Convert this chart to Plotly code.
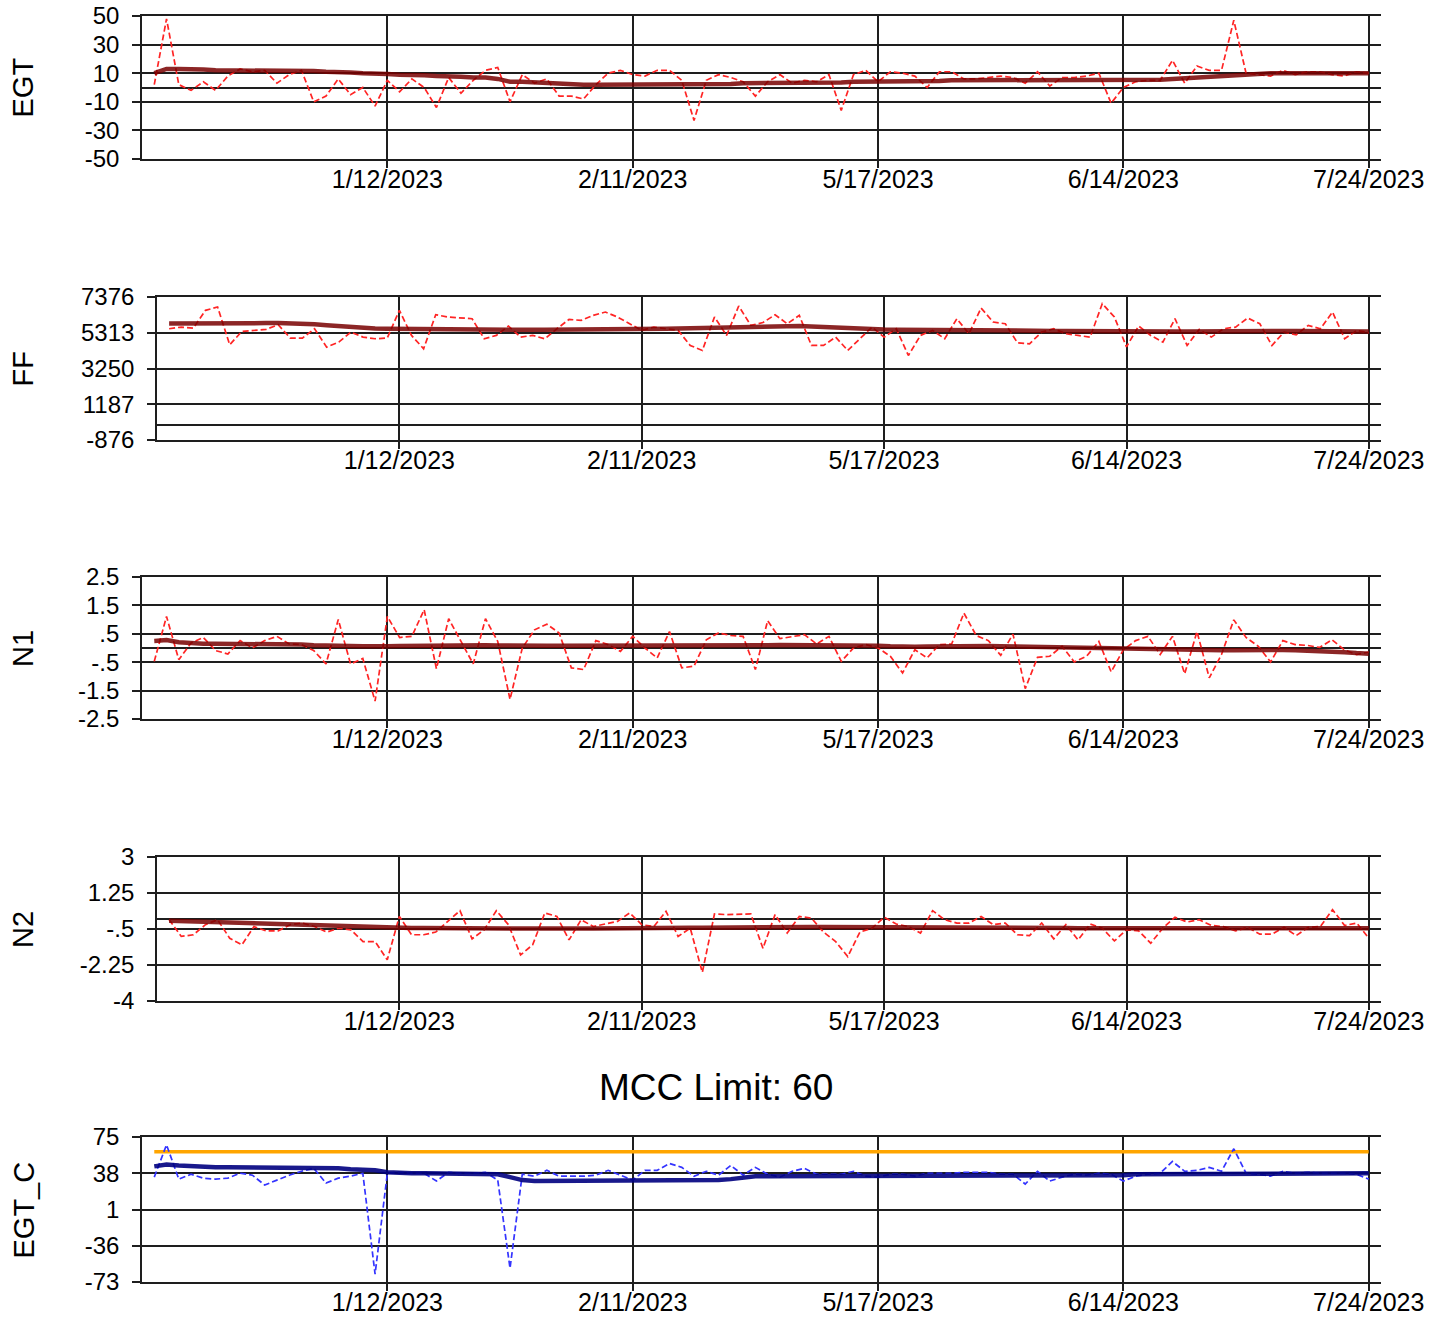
import plotly.graph_objects as go

# ---------------- data ----------------
N_POINTS = 100
X = list(range(N_POINTS))
TICK_IDX = [19, 39, 59, 79, 99]
TICK_LABELS = ["1/12/2023", "2/11/2023", "5/17/2023", "6/14/2023", "7/24/2023"]

EGT_RAW = [2, 48, 2, -2, 4, -2, 8, 13, 11, 12,
           3, 9, 12, -10, -6, 6, -5, 0, -13, 5,
           -3, 6, 0, -14, 7, -4, 5, 12, 14, -10,
           9, 3, 6, -6, -6, -8, 2, 10, 12, 9,
           8, 12, 12, 5, -23, 5, 9, 7, 4, -6,
           4, 9, 3, 5, 4, 9, -16, 9, 12, 4,
           11, 10, 8, 0, 11, 11, 6, 6, 7, 8,
           7, 3, 11, 1, 7, 7, 8, 10, -11, 0,
           4, 5, 5, 19, 3, 15, 12, 12, 47, 10,
           9, 8, 12, 9, 11, 11, 9, 8, 11, 10]
EGT_TREND = [10, 13, 13, 13, 12.5, 12, 12, 12, 12, 12,
             12, 12, 11.5, 11.5, 11, 11, 10.5, 10, 10, 9.5,
             9, 9, 8.5, 8, 8, 7.5, 7, 7, 6, 4,
             4, 3.5, 3.5, 3, 2.5, 2, 2, 2, 2, 2,
             2, 2, 2, 2, 2, 2.5, 2.5, 2.5, 3, 3,
             3, 3, 3, 3.5, 3.5, 3.5, 3.5, 4, 4, 4,
             4, 4, 4.5, 4.5, 4.5, 5, 5, 5, 5, 5,
             5, 5, 5.5, 5.5, 5.5, 5.5, 5.5, 5.5, 5.5, 5,
             5, 5, 5.5, 6, 6.5, 7, 7.5, 8, 9, 9.5,
             10, 10, 10, 10, 10, 10, 10, 10, 10, 10]
EGT_TICKS = [50, 30, 10, -10, -30, -50]
EGT_TICK_TEXT = ["50", "30", "10", "-10", "-30", "-50"]

FF_RAW = [5544, 5640, 5583, 6605, 6800, 4619, 5390, 5448, 5506, 5776,
          5005, 5005, 5544, 4484, 4773, 5351, 5062, 4966, 5005, 6605,
          5159, 4388, 6354, 6219, 6161, 6123, 4966, 5159, 5699, 5062,
          5159, 4966, 5544, 6084, 6026, 6315, 6508, 6219, 5834, 5448,
          5640, 5544, 5448, 4580, 4291, 6219, 5159, 6855, 5737, 5900,
          6354, 5834, 6315, 4580, 4580, 5062, 4291, 4966, 5640, 5062,
          5544, 4002, 5159, 5448, 4966, 6123, 5255, 6740, 5930, 5834,
          4735, 4677, 5351, 5544, 5255, 5159, 5062, 6990, 6219, 4500,
          5700, 5159, 4773, 6123, 4580, 5506, 5062, 5544, 5640, 6161,
          5834, 4580, 5351, 5197, 5737, 5544, 6508, 4966, 5448, 5313]
FF_TREND = [5850, 5860, 5870, 5880, 5880, 5880, 5870, 5870, 5870, 5870,
            5860, 5850, 5800, 5740, 5680, 5620, 5580, 5560, 5540, 5530,
            5520, 5510, 5500, 5500, 5500, 5490, 5490, 5480, 5480, 5480,
            5480, 5480, 5480, 5490, 5500, 5500, 5500, 5500, 5500, 5510,
            5520, 5540, 5560, 5580, 5600, 5620, 5640, 5660, 5680, 5690,
            5700, 5700, 5700, 5680, 5640, 5600, 5560, 5540, 5520, 5500,
            5490, 5480, 5470, 5460, 5460, 5450, 5450, 5450, 5440, 5440,
            5430, 5420, 5420, 5420, 5420, 5410, 5400, 5400, 5400, 5400,
            5380, 5370, 5370, 5380, 5390, 5400, 5410, 5410, 5420, 5420,
            5420, 5420, 5420, 5410, 5410, 5400, 5400, 5390, 5390, 5380]
FF_TICKS = [7376, 5313, 3250, 1187, -876]
FF_TICK_TEXT = ["7376", "5313", "3250", "1187", "-876"]

N1_RAW = [-0.47, 1.11, -0.41, 0.18, 0.37, -0.09, -0.21, 0.26, 0.0, 0.26,
          0.41, 0.14, 0.12, -0.09, -0.56, 1.0, -0.56, -0.37, -1.87, 1.11,
          0.37, 0.41, 1.35, -0.73, 1.03, 0.23, -0.56, 1.03, 0.23, -1.81,
          0.0, 0.64, 0.84, 0.53, -0.7, -0.76, 0.26, 0.12, -0.12, 0.41,
          0.0, -0.35, 0.58, -0.7, -0.64, 0.29, 0.53, 0.44, 0.41, -0.76,
          0.96, 0.33, 0.41, 0.47, 0.14, 0.41, -0.47, 0.0, 0.12, 0.0,
          -0.29, -0.88, -0.06, -0.35, 0.12, 0.14, 1.23, 0.44, 0.26, -0.26,
          0.49, -1.43, -0.33, -0.29, 0.06, -0.49, -0.29, 0.23, -0.84, -0.06,
          0.26, 0.41, -0.23, 0.41, -0.91, 0.58, -1.05, -0.23, 0.99, 0.37,
          0.06, -0.49, 0.26, 0.12, 0.09, 0.02, 0.29, -0.06, -0.23, -0.14]
N1_TREND = [0.25, 0.28, 0.2, 0.17, 0.15, 0.15, 0.15, 0.14, 0.14, 0.14,
            0.13, 0.12, 0.12, 0.1, 0.1, 0.08, 0.07, 0.06, 0.05, 0.06,
            0.07, 0.08, 0.09, 0.1, 0.1, 0.1, 0.1, 0.1, 0.09, 0.08,
            0.08, 0.08, 0.08, 0.08, 0.08, 0.08, 0.08, 0.08, 0.08, 0.08,
            0.08, 0.08, 0.08, 0.09, 0.09, 0.1, 0.1, 0.1, 0.08, 0.07,
            0.1, 0.11, 0.11, 0.1, 0.1, 0.1, 0.09, 0.09, 0.08, 0.08,
            0.06, 0.04, 0.04, 0.05, 0.06, 0.06, 0.06, 0.07, 0.07, 0.06,
            0.05, 0.04, 0.03, 0.03, 0.02, 0.02, 0.01, 0.0, -0.01, -0.02,
            -0.03, -0.04, -0.04, -0.05, -0.06, -0.07, -0.08, -0.08, -0.08, -0.07,
            -0.07, -0.07, -0.07, -0.08, -0.09, -0.1, -0.12, -0.15, -0.18, -0.2]
N1_TICKS = [2.5, 1.5, 0.5, -0.5, -1.5, -2.5]
N1_TICK_TEXT = ["2.5", "1.5", ".5", "-.5", "-1.5", "-2.5"]

N2_RAW = [-0.05, -0.86, -0.78, -0.29, -0.05, -0.95, -1.27, -0.38, -0.59, -0.59,
          -0.29, -0.21, -0.38, -0.65, -0.46, -0.54, -1.11, -1.11, -2.0, 0.11,
          -0.78, -0.78, -0.65, -0.13, 0.39, -0.98, -0.54, 0.39, -0.29, -1.76,
          -1.27, 0.28, 0.11, -1.03, -0.05, -0.38, -0.26, -0.13, 0.28, -0.29,
          -0.38, 0.36, -0.86, -0.46, -2.61, 0.23, 0.2, 0.2, 0.23, -1.44,
          0.2, -0.7, 0.11, 0.03, -0.65, -1.11, -1.84, -0.65, -0.46, 0.07,
          -0.26, -0.38, -0.7, 0.39, -0.05, -0.21, -0.21, 0.11, -0.29, -0.21,
          -0.78, -0.82, -0.21, -0.98, -0.29, -1.03, -0.26, -0.46, -1.08, -0.54,
          -0.59, -1.19, -0.46, 0.07, -0.16, -0.05, -0.33, -0.38, -0.59, -0.42,
          -0.75, -0.75, -0.42, -0.82, -0.42, -0.38, 0.44, -0.33, -0.21, -0.95]
N2_TREND = [-0.1, -0.12, -0.13, -0.14, -0.15, -0.16, -0.18, -0.2, -0.22, -0.25,
            -0.27, -0.29, -0.31, -0.33, -0.35, -0.37, -0.39, -0.41, -0.43, -0.44,
            -0.45, -0.45, -0.46, -0.46, -0.46, -0.47, -0.47, -0.47, -0.47, -0.47,
            -0.48, -0.48, -0.48, -0.48, -0.47, -0.47, -0.46, -0.46, -0.45, -0.45,
            -0.45, -0.45, -0.44, -0.44, -0.44, -0.43, -0.43, -0.42, -0.42, -0.42,
            -0.41, -0.41, -0.41, -0.4, -0.4, -0.4, -0.41, -0.42, -0.42, -0.42,
            -0.42, -0.42, -0.42, -0.41, -0.41, -0.41, -0.41, -0.42, -0.42, -0.43,
            -0.43, -0.44, -0.44, -0.45, -0.45, -0.46, -0.46, -0.47, -0.47, -0.47,
            -0.48, -0.48, -0.48, -0.47, -0.47, -0.46, -0.46, -0.45, -0.45, -0.45,
            -0.45, -0.45, -0.45, -0.45, -0.45, -0.44, -0.44, -0.44, -0.45, -0.46]
N2_TICKS = [3, 1.25, -0.5, -2.25, -4]
N2_TICK_TEXT = ["3", "1.25", "-.5", "-2.25", "-4"]

EGTC_RAW = [34, 67, 32, 37, 33, 32, 33, 38, 36, 26,
            31, 36, 40, 43, 28, 33, 35, 38, -65, 38,
            39, 38, 38, 30, 39, 38, 38, 39, 31, -59,
            37, 35, 41, 35, 35, 35, 36, 41, 36, 31,
            41, 41, 48, 44, 35, 40, 36, 46, 36, 44,
            37, 34, 40, 43, 37, 37, 37, 40, 35, 34,
            37, 37, 35, 38, 38, 38, 39, 39, 39, 37,
            37, 27, 40, 30, 34, 37, 36, 38, 37, 30,
            35, 37, 38, 50, 40, 41, 44, 40, 63, 38,
            37, 35, 40, 38, 39, 38, 38, 38, 37, 32]
EGTC_TREND = [45, 47, 46, 45, 44, 44, 44, 44, 44, 44,
              43, 43, 43, 43, 43, 43, 42, 42, 41, 39,
              38, 38, 38, 38, 38, 38, 38, 38, 37, 34,
              31, 30, 30, 30, 30, 30, 30, 30, 30, 30,
              30, 30, 30, 30, 30, 30, 31, 32, 34, 35,
              35, 35, 35, 35, 35, 35, 35, 35, 35, 35,
              36, 36, 36, 36, 36, 36, 36, 36, 36, 36,
              36, 36, 36, 36, 36, 36, 36, 36, 36, 36,
              37, 37, 37, 37, 37, 37, 37, 37, 37, 38,
              38, 38, 38, 38, 38, 38, 38, 38, 38, 38]
EGTC_TICKS = [75, 38, 1, -36, -73]
EGTC_TICK_TEXT = ["75", "38", "1", "-36", "-73"]
MCC_LIMIT = 60

# ---------------- layout geometry (pixels of a 1441x1317 page) ----------------
W, H = 1441, 1317
FONT = "Liberation Sans, Arial, sans-serif"
PLOT_RIGHT = 1381
GRID = "#1e1e1e"

panels = [
    # name, raw, trend, ticks, ticktext, left px, top px, bottom px, raw colour, trend colour, zero line
    ("EGT", EGT_RAW, EGT_TREND, EGT_TICKS, EGT_TICK_TEXT, 142, 16, 159, "#ff2424", "rgba(120,0,0,0.85)", True),
    ("FF", FF_RAW, FF_TREND, FF_TICKS, FF_TICK_TEXT, 157, 297, 440, "#ff2424", "rgba(120,0,0,0.85)", True),
    ("N1", N1_RAW, N1_TREND, N1_TICKS, N1_TICK_TEXT, 142, 577, 719, "#ff2424", "rgba(120,0,0,0.85)", True),
    ("N2", N2_RAW, N2_TREND, N2_TICKS, N2_TICK_TEXT, 157, 857, 1001, "#ff2424", "rgba(120,0,0,0.85)", True),
    ("EGT_C", EGTC_RAW, EGTC_TREND, EGTC_TICKS, EGTC_TICK_TEXT, 142, 1137, 1282, "#3434ff", "rgba(0,0,128,0.9)", False),
]

fig = go.Figure()
layout = dict(
    width=W, height=H,
    margin=dict(l=0, r=0, t=0, b=0, autoexpand=False),
    paper_bgcolor="white", plot_bgcolor="white",
    showlegend=False,
    font=dict(family=FONT, color="black"),
    annotations=[],
)

for i, (name, raw, trend, ticks, ticktext, left, top, bottom, rc, tc, zl) in enumerate(panels):
    n = i + 1
    xa = "x" if n == 1 else f"x{n}"
    ya = "y" if n == 1 else f"y{n}"
    xkey = "xaxis" if n == 1 else f"xaxis{n}"
    ykey = "yaxis" if n == 1 else f"yaxis{n}"

    if name == "EGT_C":
        fig.add_trace(go.Scatter(x=[X[0], X[-1]], y=[MCC_LIMIT, MCC_LIMIT], mode="lines",
                                 line=dict(color="#ffa500", width=3.5),
                                 xaxis=xa, yaxis=ya, hoverinfo="skip"))
    fig.add_trace(go.Scatter(x=X, y=raw, mode="lines",
                             line=dict(color=rc, width=1.7, dash="6px,3px"),
                             xaxis=xa, yaxis=ya, name=name))
    fig.add_trace(go.Scatter(x=X, y=trend, mode="lines",
                             line=dict(color=tc, width=4.5),
                             xaxis=xa, yaxis=ya, name=name + " trend"))

    layout[xkey] = dict(
        domain=[left / W, PLOT_RIGHT / W],
        anchor=ya,
        automargin=False,
        range=[X[0] - 1, X[-1] + 1],
        tickmode="array",
        tickvals=[X[k] for k in TICK_IDX],
        ticktext=TICK_LABELS,
        showgrid=True, gridcolor=GRID, gridwidth=1.7,
        showline=True, linecolor=GRID, linewidth=1.7, mirror=True,
        ticks="outside", ticklen=7, tickwidth=1.7, tickcolor=GRID,
        ticklabelstandoff=-10,
        zeroline=False,
        tickfont=dict(size=25, family=FONT, color="black"),
        fixedrange=True,
    )
    layout[ykey] = dict(
        domain=[1 - bottom / H, 1 - top / H],
        anchor=xa,
        automargin=False,
        range=[min(ticks), max(ticks)],
        tickmode="array",
        tickvals=ticks,
        ticktext=ticktext,
        showgrid=True, gridcolor=GRID, gridwidth=1.7,
        zeroline=zl, zerolinecolor=GRID, zerolinewidth=1.7,
        showline=True, linecolor=GRID, linewidth=1.7,
        ticks="outside", ticklen=8, tickwidth=1.7, tickcolor=GRID,
        ticklabelstandoff=8,
        tickfont=dict(size=24, family=FONT, color="black"),
        fixedrange=True,
    )
    layout["annotations"].append(dict(
        text=name, xref="paper", yref="paper",
        x=23 / W, y=1 - ((top + bottom) / 2) / H,
        xanchor="center", yanchor="middle", textangle=-90, showarrow=False,
        font=dict(size=29, family=FONT, color="black"),
    ))

layout["annotations"].append(dict(
    text=f"MCC Limit: {MCC_LIMIT}", xref="paper", yref="paper",
    x=716 / W, y=1 - 1087 / H, xanchor="center", yanchor="middle", showarrow=False,
    font=dict(size=37, family=FONT, color="black"),
))

fig.update_layout(**layout)
fig.write_html("out.html", config={"displayModeBar": False},
               post_script="document.body.style.margin='0';document.body.style.overflow='hidden';")
